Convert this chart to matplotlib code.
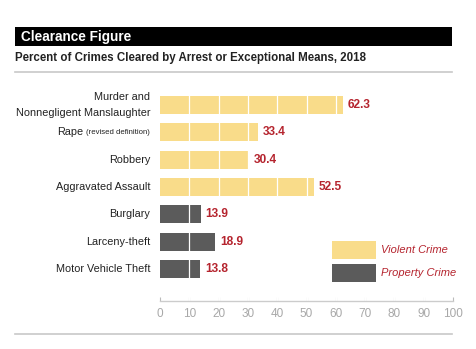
import matplotlib
matplotlib.use("Agg")
import matplotlib.pyplot as plt
from matplotlib.patches import Rectangle
from matplotlib.lines import Line2D

# Clearance rates, 2018
crimes = ["Murder and\nNonnegligent Manslaughter", "Rape", "Robbery",
          "Aggravated Assault", "Burglary", "Larceny-theft", "Motor Vehicle Theft"]
notes = {"Rape": "(revised definition)"}
cleared = [62.3, 33.4, 30.4, 52.5, 13.9, 18.9, 13.8]
kind = ["violent"] * 4 + ["property"] * 3
xticks = [0, 10, 20, 30, 40, 50, 60, 70, 80, 90, 100]

YELLOW = "#f9dc8a"
GRAY = "#5b5b5b"
RED = "#b5242e"
FONT = ["Liberation Sans", "DejaVu Sans"]

W, H = 476, 349
fig = plt.figure(figsize=(W / 100, H / 100), dpi=100)

def fx(px):
    return px / W

def fy(py):
    return 1 - py / H

# header bar, subtitle and rules
fig.add_artist(Rectangle((fx(15), fy(45.7)), fx(452) - fx(15), (45.7 - 26.7) / H,
                         transform=fig.transFigure, color="black", lw=0))
fig.text(fx(21), fy(36.5), "Clearance Figure", color="white", fontsize=9.8,
         fontweight="bold", family=FONT, va="center")
fig.text(fx(15), fy(57.5), "Percent of Crimes Cleared by Arrest or Exceptional Means, 2018",
         color="#222222", fontsize=8.3, fontweight="bold", family=FONT, va="center")
fig.add_artist(Line2D([fx(15), fx(452)], [fy(72), fy(72)], transform=fig.transFigure,
                      color="#c8c8c8", lw=1.2))
fig.add_artist(Line2D([fx(15), fx(452)], [fy(334), fy(334)], transform=fig.transFigure,
                      color="#c8c8c8", lw=1.2))

ax = fig.add_axes([fx(160), fy(300.7), fx(453) - fx(160), (300.7 - 85) / H])
ypos = list(range(len(crimes)))
colors = [YELLOW if k == "violent" else GRAY for k in kind]
ax.barh(ypos, cleared, height=0.66, color=colors, zorder=1)
ax.vlines(xticks[1:-1], -1, 8, color="white", lw=0.9, zorder=2)
ax.set_xlim(0, 100)
ax.set_ylim(7.16, -0.73)

for y, v in zip(ypos, cleared):
    ax.text(v + 1.7, y, f"{v}", color=RED, fontsize=8.6, fontweight="bold",
            family=FONT, va="center", ha="left")

# category labels, right-aligned left of the bars
ax.set_yticks([])
for y, name in zip(ypos, crimes):
    if name in notes:
        small = ax.text(-3.4, y, notes[name], ha="right", va="center", fontsize=5.6,
                        family=FONT, color="#222222")
        ax.annotate(name, xy=(0, 0.5), xycoords=small, xytext=(-2, 0),
                    textcoords="offset points", ha="right", va="center",
                    fontsize=7.8, family=FONT, color="#222222")
    else:
        ax.text(-3.4, y, name, ha="right", va="center", fontsize=7.8, family=FONT,
                color="#222222", linespacing=1.85)

ax.set_xticks(xticks)
ax.tick_params(axis="x", direction="in", length=3, color="#bbbbbb", labelcolor="#a8a8a8",
               labelsize=8.5, pad=5)
for lab in ax.get_xticklabels():
    lab.set_family(FONT)
for s in ["top", "right", "left"]:
    ax.spines[s].set_visible(False)
ax.spines["bottom"].set_color("#cccccc")
ax.spines["bottom"].set_linewidth(1)

# legend
for (top, col, label) in [(241, YELLOW, "Violent Crime"), (264, GRAY, "Property Crime")]:
    fig.add_artist(Rectangle((fx(332), fy(top + 17.5)), fx(376) - fx(332), 17.5 / H,
                             transform=fig.transFigure, color=col, lw=0))
    fig.text(fx(381), fy(top + 9), label, color=RED, fontsize=8, style="italic",
             family=FONT, va="center")

fig.savefig("out.png", dpi=100)
